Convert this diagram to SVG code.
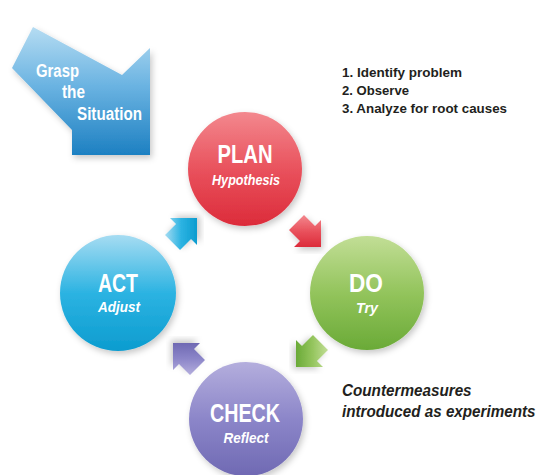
<svg xmlns="http://www.w3.org/2000/svg" width="542" height="475" viewBox="0 0 542 475">
<defs>
<linearGradient id="gBig" x1="0" y1="0" x2="0" y2="1"><stop offset="0" stop-color="#b5dcf2"/><stop offset="0.45" stop-color="#6cb4e2"/><stop offset="1" stop-color="#1d80c2"/></linearGradient>
<linearGradient id="gRed" x1="0" y1="0" x2="0" y2="1"><stop offset="0" stop-color="#f3888e"/><stop offset="0.5" stop-color="#e9525d"/><stop offset="1" stop-color="#dc2b3a"/></linearGradient>
<linearGradient id="gGreen" x1="0" y1="0" x2="0" y2="1"><stop offset="0" stop-color="#c2de96"/><stop offset="0.5" stop-color="#93c45c"/><stop offset="1" stop-color="#6aaa37"/></linearGradient>
<linearGradient id="gBlue" x1="0" y1="0" x2="0" y2="1"><stop offset="0" stop-color="#a6dcf2"/><stop offset="0.5" stop-color="#2cb3e2"/><stop offset="1" stop-color="#0c9ccf"/></linearGradient>
<linearGradient id="gPurple" x1="0" y1="0" x2="0" y2="1"><stop offset="0" stop-color="#b4aedd"/><stop offset="0.5" stop-color="#8c86c9"/><stop offset="1" stop-color="#6f69b3"/></linearGradient>
<filter id="sh" x="-20%" y="-20%" width="140%" height="140%"><feDropShadow dx="2" dy="3" stdDeviation="3" flood-color="#000" flood-opacity="0.22"/></filter>
<path id="sa" d="M0,0 L0,-27 L-6,-21 L-17,-32 L-32,-17 L-21,-6 L-27,0 Z"/>
</defs>
<style>
.t{font-family:"Liberation Sans",Arial,sans-serif;font-weight:bold;fill:#fff}
.ti{font-family:"Liberation Sans",Arial,sans-serif;font-weight:bold;font-style:italic;fill:#fff}
.d{font-family:"Liberation Sans",Arial,sans-serif;font-weight:bold;fill:#231f20}
.di{font-family:"Liberation Sans",Arial,sans-serif;font-weight:bold;font-style:italic;fill:#231f20}
</style>
<rect width="542" height="475" fill="#fff"/>
<g id="grasp">
<polygon points="33,27 12,68 72,130 72,155 150,155 150,48 122,75" fill="url(#gBig)" filter="url(#sh)"/>
<text class="t" x="36" y="77" font-size="17.5" textLength="43" lengthAdjust="spacingAndGlyphs">Grasp</text>
<text class="t" x="62" y="98" font-size="17.5" textLength="23" lengthAdjust="spacingAndGlyphs">the</text>
<text class="t" x="77" y="120" font-size="17.5" textLength="65" lengthAdjust="spacingAndGlyphs">Situation</text>
</g>
<g id="steps">
<text class="d" x="342" y="77" font-size="13.5" textLength="120" lengthAdjust="spacingAndGlyphs">1. Identify problem</text>
<text class="d" x="342" y="95" font-size="13.5" textLength="67" lengthAdjust="spacingAndGlyphs">2. Observe</text>
<text class="d" x="342" y="113" font-size="13.5" textLength="165" lengthAdjust="spacingAndGlyphs">3. Analyze for root causes</text>
</g>
<g id="plan">
<circle cx="245" cy="169" r="57" fill="url(#gRed)" filter="url(#sh)"/>
<text class="t" x="245" y="163" font-size="26" text-anchor="middle" textLength="55" lengthAdjust="spacingAndGlyphs">PLAN</text>
<text class="ti" x="246" y="185" font-size="15" text-anchor="middle" textLength="68" lengthAdjust="spacingAndGlyphs">Hypothesis</text>
</g>
<g id="do">
<circle cx="367" cy="293" r="57" fill="url(#gGreen)" filter="url(#sh)"/>
<text class="t" x="366" y="292" font-size="26" text-anchor="middle" textLength="34" lengthAdjust="spacingAndGlyphs">DO</text>
<text class="ti" x="367" y="313" font-size="15" text-anchor="middle" textLength="22" lengthAdjust="spacingAndGlyphs">Try</text>
</g>
<g id="act">
<circle cx="118" cy="293" r="58" fill="url(#gBlue)" filter="url(#sh)"/>
<text class="t" x="118" y="292" font-size="26" text-anchor="middle" textLength="40" lengthAdjust="spacingAndGlyphs">ACT</text>
<text class="ti" x="119" y="312" font-size="15" text-anchor="middle" textLength="42" lengthAdjust="spacingAndGlyphs">Adjust</text>
</g>
<g id="check">
<circle cx="246" cy="419" r="57" fill="url(#gPurple)" filter="url(#sh)"/>
<text class="t" x="245" y="422" font-size="26" text-anchor="middle" textLength="70" lengthAdjust="spacingAndGlyphs">CHECK</text>
<text class="ti" x="246" y="443" font-size="15" text-anchor="middle" textLength="45" lengthAdjust="spacingAndGlyphs">Reflect</text>
</g>
<g id="connectors">
<use href="#sa" transform="translate(321,247)" fill="url(#gRed)" filter="url(#sh)"/>
<use href="#sa" transform="translate(296,367) rotate(90)" fill="url(#gGreen)" filter="url(#sh)"/>
<use href="#sa" transform="translate(173,343) rotate(180)" fill="url(#gPurple)" filter="url(#sh)"/>
<use href="#sa" transform="translate(197,218) rotate(270)" fill="url(#gBlue)" filter="url(#sh)"/>
</g>
<g id="note">
<text class="di" transform="translate(342,396) scale(0.9,1)" font-size="17" textLength="144" lengthAdjust="spacingAndGlyphs">Countermeasures</text>
<text class="di" transform="translate(342,417) scale(0.9,1)" font-size="17" textLength="215" lengthAdjust="spacingAndGlyphs">introduced as experiments</text>
</g>
</svg>
